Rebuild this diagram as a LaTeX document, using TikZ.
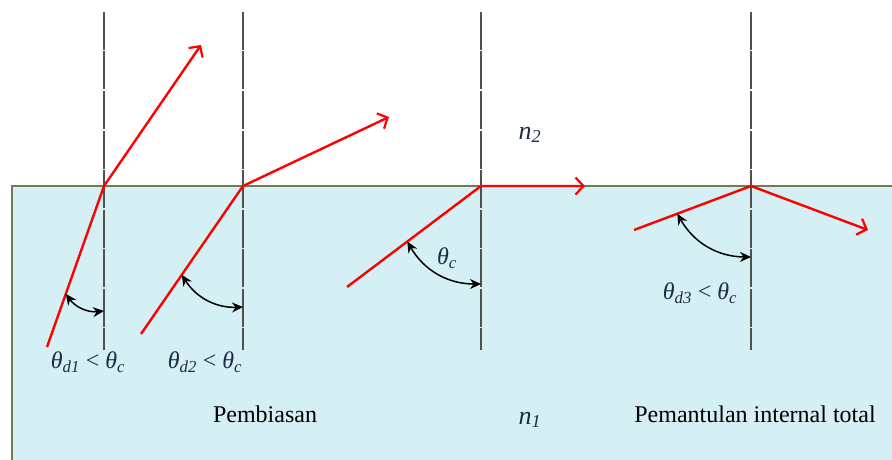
\documentclass[tikz,border=0pt]{standalone}
\usepackage{fontspec}
\setmainfont{Liberation Serif}
\usetikzlibrary{arrows.meta, calc}
\definecolor{wwater}{HTML}{D5F0F4}
\definecolor{wedge}{HTML}{6E7D55}
\definecolor{wnormal}{HTML}{505050}
\definecolor{wlabel}{HTML}{1E2B45}
\newcommand{\thsub}[1]{\textit{θ}\textsubscript{\textit{#1}}}

\begin{document}
\begin{tikzpicture}[x=1pt, y=1pt, font=\fontsize{24}{28}\selectfont,
     nrm/.style={draw=wnormal, line width=1.4pt, dash pattern=on 38pt off 1.5pt},
     ray/.style={draw=red, line width=2.4pt, -{Straight Barb[length=8pt, width=17pt, line width=2.2pt]}},
     ang/.style={draw=black, line width=1.5pt, {Stealth[length=11pt, width=10pt]}-{Stealth[length=11pt, width=10pt]}, bend right=30},
     lbl/.style={text=wlabel, inner sep=0pt}]
    \useasboundingbox (0,0) rectangle (892,459);
    \clip (0,0) rectangle (892,459);
    % medium n1
    \draw[wedge, line width=1.4pt, fill=wwater] (12,-5) rectangle (900,273);
    % normals
    \foreach \x/\n in {104/1, 243/2, 481/3, 751/4}
      \draw[nrm] (\x,447) coordinate (t\n) -- (\x,109) coordinate (b\n);
    % rays
    \coordinate (o1) at (104,273);
    \coordinate (o2) at (243,273);
    \coordinate (o3) at (481,273);
    \coordinate (o4) at (751,273);
    \coordinate (s1) at (47,112);
    \coordinate (s2) at (141,125);
    \coordinate (s3) at (347,172);
    \coordinate (s4) at (634,229);
    \coordinate (e1) at (201,414);
    \coordinate (e2) at (389,342);
    \coordinate (e3) at (585,273);
    \coordinate (e4) at (868,229);
    \foreach \n in {1,...,4}
      \draw[ray] (s\n) -- (o\n) -- (e\n);
    % angles
    \coordinate (p1) at ($(s1)!0.33!(o1)$);
    \coordinate (p2) at ($(s2)!0.40!(o2)$);
    \coordinate (p3) at ($(s3)!0.45!(o3)$);
    \coordinate (p4) at ($(s4)!0.37!(o4)$);
    \coordinate (q1) at (104,148);
    \coordinate (q2) at (243,152);
    \coordinate (q3) at (481,175);
    \coordinate (q4) at (751,202);
    \foreach \n in {1,...,4}
      \draw[ang] (p\n) to (q\n);
    % labels
    \node[lbl] (ld1) at (88,97) {\thsub{d1} < \thsub{c}};
    \node[lbl] (ld2) at (205,97) {\thsub{d2} < \thsub{c}};
    \node[lbl] (lc) at (447,201) {\thsub{c}};
    \node[lbl] (ld3) at (700,166) {\thsub{d3} < \thsub{c}};
    \node[lbl, font=\fontsize{26}{30}\selectfont] (n2) at (530,324) {\textit{n}\textsubscript{\textit{2}}};
    \node[lbl, font=\fontsize{26}{30}\selectfont] (n1) at (530,39) {\textit{n}\textsubscript{\textit{1}}};
    \node[inner sep=0pt] (pb) at (265,45) {Pembiasan};
    \node[inner sep=0pt] (pit) at (755,45) {Pemantulan internal total};
\end{tikzpicture}
\end{document}
